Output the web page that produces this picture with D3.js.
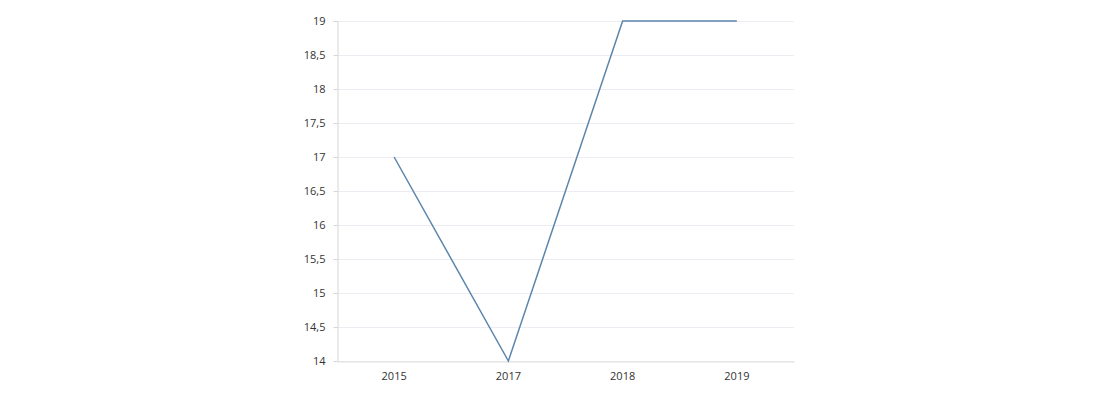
<!DOCTYPE html>
<html>
<head>
<meta charset="utf-8">
<script src="https://cdn.jsdelivr.net/npm/d3@7"></script>
<style>
body { margin: 0; background: #fff; }
svg text { font-family: "Open Sans", sans-serif; font-size: 11px; fill: #333; }
</style>
</head>
<body>
<div id="chart"></div>
<script>
var years = ['2015', '2017', '2018', '2019'];
var values = [17, 14, 19, 19];
var yTicks = [14, 14.5, 15, 15.5, 16, 16.5, 17, 17.5, 18, 18.5, 19];

var width = 1100, height = 400;
var margin = {top: 21, right: 306, bottom: 39, left: 337};

var svg = d3.select('#chart').append('svg')
	.attr('width', width)
	.attr('height', height);

var x = d3.scaleBand()
	.domain(years)
	.range([margin.left, width - margin.right]);

var y = d3.scaleLinear()
	.domain([14, 19])
	.range([height - margin.bottom, margin.top]);

var fmt = function (d) { return String(d).replace('.', ','); };

// grid
svg.append('g')
	.selectAll('line')
	.data(yTicks)
	.enter().append('line')
	.attr('x1', margin.left)
	.attr('x2', width - margin.right)
	.attr('y1', function (d) { return y(d) + 0.5; })
	.attr('y2', function (d) { return y(d) + 0.5; })
	.attr('stroke', '#ececf2')
	.attr('stroke-width', 1);

var yAxis = svg.append('g')
	.attr('transform', 'translate(' + (margin.left + 0.5) + ',0)')
	.call(d3.axisLeft(y).tickValues(yTicks).tickFormat(fmt).tickSize(4).tickPadding(8));
yAxis.select('.domain').attr('stroke', '#d6d6d6');
yAxis.selectAll('.tick line').attr('stroke', '#d6d6d6');
yAxis.selectAll('text').style('font-size', '11px');

var xAxis = svg.append('g')
	.attr('transform', 'translate(0,' + (height - margin.bottom + 0.5) + ')')
	.call(d3.axisBottom(x).tickSize(0).tickPadding(11).tickSizeOuter(0));
xAxis.select('.domain').attr('stroke', '#e0e0e0');

var line = d3.line()
	.x(function (d, i) { return x(years[i]) + x.bandwidth() / 2; })
	.y(function (d) { return y(d); });

svg.append('path')
	.datum(values)
	.attr('d', line)
	.attr('fill', 'none')
	.attr('stroke', '#5b86ab')
	.attr('stroke-width', 1.5);
</script>
</body>
</html>
